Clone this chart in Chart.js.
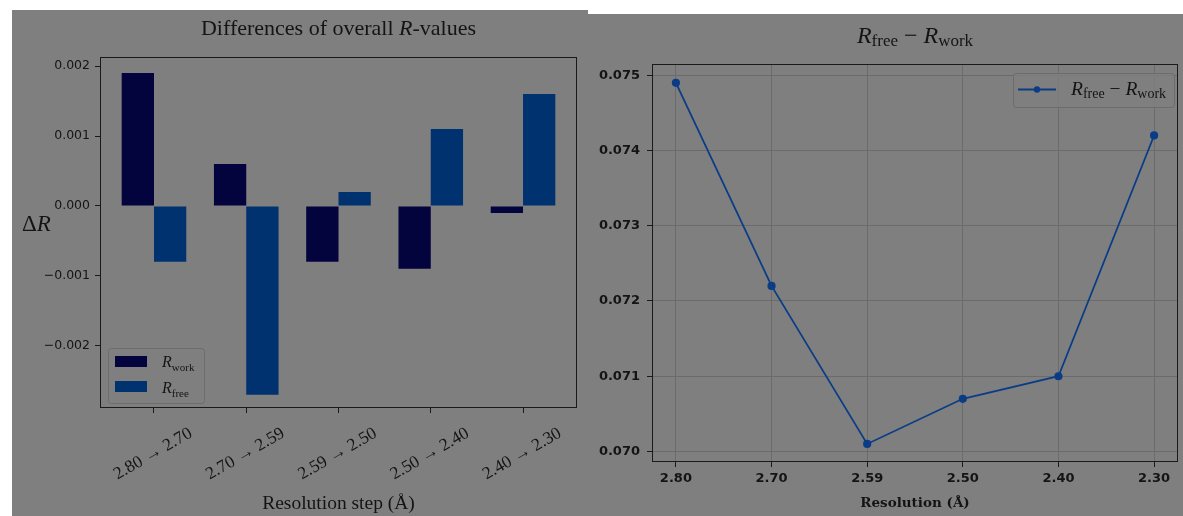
<!DOCTYPE html>
<html>
<head>
<meta charset="utf-8">
<script src="https://cdn.jsdelivr.net/npm/chart.js@4.4.1/dist/chart.umd.min.js"></script>
<style>
  body { margin: 0; background: #fff; width: 1183px; height: 516px; overflow: hidden; position: relative; }
  .fig { position: absolute; background: #7f7f7f; }
  #left { left: 12px; top: 10px; width: 576px; height: 506px; }
  #right { left: 588px; top: 14px; width: 595px; height: 502px; }
</style>
</head>
<body>
<div class="fig" id="left"><canvas id="barChart" width="576" height="506"></canvas></div>
<div class="fig" id="right"><canvas id="lineChart" width="595" height="502"></canvas></div>
<script>
// ---- data
const steps = ['2.80 \u2192 2.70', '2.70 \u2192 2.59', '2.59 \u2192 2.50', '2.50 \u2192 2.40', '2.40 \u2192 2.30'];
const dRwork = [0.0019, 0.0006, -0.0008, -0.0009, -0.0001];
const dRfree = [-0.0008, -0.0027, 0.0002, 0.0011, 0.0016];
const dTicks = [-0.002, -0.001, 0, 0.001, 0.002];

const resolutions = ['2.80', '2.70', '2.59', '2.50', '2.40', '2.30'];
const gap = [0.0749, 0.0722, 0.0701, 0.0707, 0.0710, 0.0742];
const gapTicks = [0.070, 0.071, 0.072, 0.073, 0.074, 0.075];

// ---- styling
const SERIF = '"Liberation Serif", "DejaVu Serif", serif';
const INK = '#141414';
const WORK = '#03033d';
const FREE = '#003270';
const LINE = '#0b3d86';

Chart.defaults.animation = false;
Chart.defaults.color = INK;

// draw text made of pieces (italic R, subscripts)
function rich(ctx, parts, x, y, align) {
  const f = p => (p[2] ? 'italic ' : '') + p[1] + 'px ' + SERIF;
  let w = 0;
  parts.forEach(p => { ctx.font = f(p); w += ctx.measureText(p[0]).width; });
  let cx = align === 'center' ? x - w / 2 : x;
  ctx.textAlign = 'left';
  ctx.textBaseline = 'alphabetic';
  ctx.fillStyle = INK;
  parts.forEach(p => {
    ctx.font = f(p);
    ctx.fillText(p[0], cx, y + (p[3] || 0));
    cx += ctx.measureText(p[0]).width;
  });
}

function legendBox(ctx, x, y, w, h) {
  ctx.save();
  ctx.beginPath();
  ctx.roundRect(x + 0.5, y + 0.5, w, h, 3);
  ctx.fillStyle = 'rgba(128,128,128,0.8)';
  ctx.fill();
  ctx.strokeStyle = '#6c6c6c';
  ctx.lineWidth = 1;
  ctx.stroke();
  ctx.restore();
}

const Rsub = (s, big, small, dy) => [['R', big, true], [s, small, false, dy]];

const decor = {
  id: 'decor',
  afterDraw(chart, args, o) {
    const ctx = chart.ctx, a = chart.chartArea;
    ctx.save();
    ctx.strokeStyle = '#1a1a1a';
    ctx.lineWidth = 1;
    ctx.strokeRect(a.left + 0.5, a.top + 0.5, a.right - a.left - 1, a.bottom - a.top - 1);
    rich(ctx, o.title, (a.left + a.right) / 2, o.titleY, 'center');
    if (o.ylabel) rich(ctx, o.ylabel, o.ylabelX, o.ylabelY, 'left');
    o.legend(ctx, chart);
    ctx.restore();
  }
};

// ---- left: differences of R-values
new Chart(document.getElementById('barChart'), {
  type: 'bar',
  data: {
    datasets: [
      { label: 'Rwork', data: dRwork.map((v, i) => ({ x: i, y: v })), backgroundColor: WORK },
      { label: 'Rfree', data: dRfree.map((v, i) => ({ x: i, y: v })), backgroundColor: FREE }
    ]
  },
  options: {
    responsive: false,
    layout: { padding: { top: 47, right: 11, left: 0, bottom: 0 } },
    datasets: { bar: { categoryPercentage: 0.7, barPercentage: 1.0 } },
    plugins: {
      legend: { display: false },
      tooltip: { enabled: false },
      decor: {
        title: [['Differences of overall ', 22], ['R', 22, true], ['-values', 22]],
        titleY: 25,
        ylabel: [['\u0394', 23], ['R', 23, true]],
        ylabelX: 10, ylabelY: 221,
        legend(ctx, chart) {
          legendBox(ctx, 96, 338, 96, 55);
          ctx.fillStyle = WORK; ctx.fillRect(103, 346, 32, 11);
          ctx.fillStyle = FREE; ctx.fillRect(103, 371, 32, 11);
          rich(ctx, Rsub('work', 16, 11, 4), 150, 357);
          rich(ctx, Rsub('free', 16, 11, 4), 150, 383);
        }
      }
    },
    scales: {
      x: {
        type: 'linear', min: -0.585, max: 4.585, offset: false,
        afterBuildTicks: s => { s.ticks = steps.map((c, i) => ({ value: i })); },
        afterFit: s => { s.height = 108; },
        grid: { drawOnChartArea: false, offset: false, tickLength: 5, tickColor: '#1a1a1a' },
        border: { display: false },
        ticks: {
          callback: v => steps[v],
          minRotation: 30, maxRotation: 30, labelOffset: 37, padding: 10,
          font: { family: SERIF, size: 17.5 }
        },
        title: { display: true, text: 'Resolution step (\u00c5)', font: { family: SERIF, size: 19.5 }, padding: { top: 4, bottom: 0 } }
      },
      y: {
        min: -0.00289, max: 0.00213,
        afterBuildTicks: s => { s.ticks = dTicks.map(v => ({ value: v })); },
        afterFit: s => { s.width = 88; },
        grid: { drawOnChartArea: false, tickLength: 5, tickColor: '#1a1a1a' },
        border: { display: false },
        ticks: {
          callback: v => v.toFixed(3).replace('-', '\u2212'),
          padding: 5,
          font: { family: '"DejaVu Sans"', size: 12.5 }
        }
      }
    }
  },
  plugins: [decor]
});

// ---- right: Rfree - Rwork
new Chart(document.getElementById('lineChart'), {
  type: 'line',
  data: {
    datasets: [{
      label: 'Rfree - Rwork',
      data: gap.map((v, i) => ({ x: i, y: v })),
      borderColor: LINE, backgroundColor: LINE,
      borderWidth: 1.8, pointRadius: 3.2, pointHoverRadius: 3.2, tension: 0
    }]
  },
  options: {
    responsive: false,
    layout: { padding: { top: 50, right: 0, left: 0, bottom: 0 } },
    plugins: {
      legend: { display: false },
      tooltip: { enabled: false },
      decor: {
        title: Rsub('free', 24, 17, 3).concat([[' \u2212 ', 24]], Rsub('work', 24, 17, 3)),
        titleY: 29,
        legend(ctx, chart) {
          legendBox(ctx, 425, 59, 161, 34);
          ctx.strokeStyle = LINE; ctx.lineWidth = 1.8;
          ctx.beginPath(); ctx.moveTo(430, 75.5); ctx.lineTo(468, 75.5); ctx.stroke();
          ctx.fillStyle = LINE;
          ctx.beginPath(); ctx.arc(449, 75.5, 3.2, 0, Math.PI * 2); ctx.fill();
          rich(ctx, Rsub('free', 19.5, 14, 3).concat([[' \u2212 ', 19.5]], Rsub('work', 19.5, 14, 3)), 483, 81);
        }
      }
    },
    scales: {
      x: {
        type: 'linear', min: -0.25, max: 5.25,
        afterBuildTicks: s => { s.ticks = resolutions.map((r, i) => ({ value: i })); },
        afterFit: s => { s.height = 54; },
        grid: { color: '#6b6b6b', tickLength: 5, tickColor: '#1a1a1a' },
        border: { display: false },
        ticks: {
          callback: v => resolutions[v], maxRotation: 0, padding: 4,
          font: { family: '"DejaVu Sans"', size: 13, weight: 'bold' }
        },
        title: { display: true, text: 'Resolution (\u00c5)', font: { family: '"DejaVu Serif"', size: 13.5, weight: 'bold' }, padding: { top: 2, bottom: 4 } }
      },
      y: {
        min: 0.06986, max: 0.07515,
        afterBuildTicks: s => { s.ticks = gapTicks.map(v => ({ value: v })); },
        afterFit: s => { s.width = 64; },
        grid: { color: '#6b6b6b', tickLength: 5, tickColor: '#1a1a1a' },
        border: { display: false },
        ticks: {
          callback: v => v.toFixed(3), padding: 7,
          font: { family: '"DejaVu Sans"', size: 13, weight: 'bold' }
        }
      }
    }
  },
  plugins: [decor]
});
</script>
</body>
</html>
